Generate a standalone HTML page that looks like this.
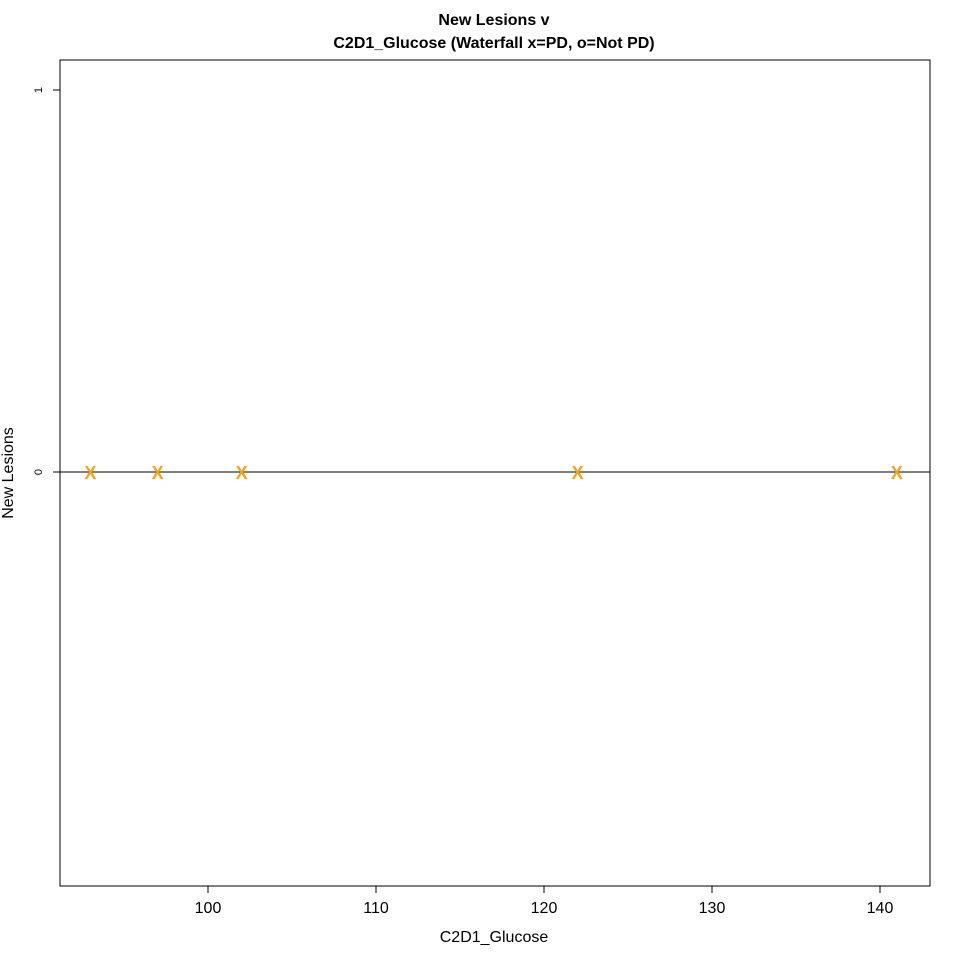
<!DOCTYPE html>
<html><head><meta charset="utf-8"><style>
body{margin:0;background:#fff}
svg{display:block;font-family:"Liberation Sans",Arial,sans-serif}
</style></head><body>
<svg id="chart" width="960" height="960">
<text x="494" y="25" text-anchor="middle" font-size="16" font-weight="bold">New Lesions v</text>
<text x="494" y="48" text-anchor="middle" font-size="16" font-weight="bold">C2D1_Glucose (Waterfall x=PD, o=Not PD)</text>
<rect x="60" y="60" width="870" height="826" fill="none" stroke="#000"/>
<text x="494" y="942" text-anchor="middle" font-size="16">C2D1_Glucose</text>
<text transform="translate(13,473) rotate(-90)" text-anchor="middle" font-size="16">New Lesions</text>
<g id="axes"></g>
<g id="marks"></g>
</svg>
<script>
const xVals=[93,97,102,122,141];
const yVals=[0,0,0,0,0];
const xTicks=[100,110,120,130,140];
const yTicks=[0,1];
const sx=v=>208+(v-100)*16.8;
const sy=v=>472-(v)*382;
const NS="http://www.w3.org/2000/svg";
const axes=document.getElementById('axes');
const marks=document.getElementById('marks');
function mk(t,a,p){const e=document.createElementNS(NS,t);for(const k in a)e.setAttribute(k,a[k]);p.appendChild(e);return e;}
xTicks.forEach(t=>{
  const l=mk('line',{x1:sx(t),x2:sx(t),y1:886,y2:893,stroke:'#000'},axes);
  
  
  const tx=mk('text',{x:sx(t),y:913,'text-anchor':'middle','font-size':16},axes);
  tx.textContent=t;
  
  
});
yTicks.forEach(t=>{
  const l=mk('line',{x1:53,x2:60,y1:sy(t),y2:sy(t),stroke:'#000'},axes);
  
  
  const tx=mk('text',{transform:`translate(42,${sy(t)}) rotate(-90)`,'text-anchor':'middle','font-size':11},axes);
  tx.textContent=t;
  
  
});
const zl=mk('line',{x1:60,x2:930,y1:sy(0),y2:sy(0),stroke:'#000'},axes);


xVals.forEach((v,i)=>{
  const t=mk('text',{x:sx(v),y:sy(yVals[i])+7,'text-anchor':'middle','font-size':18,'font-weight':'bold',fill:'#F5A21F'},marks);
  t.textContent='X';
  
  
});
</script>
</body></html>
